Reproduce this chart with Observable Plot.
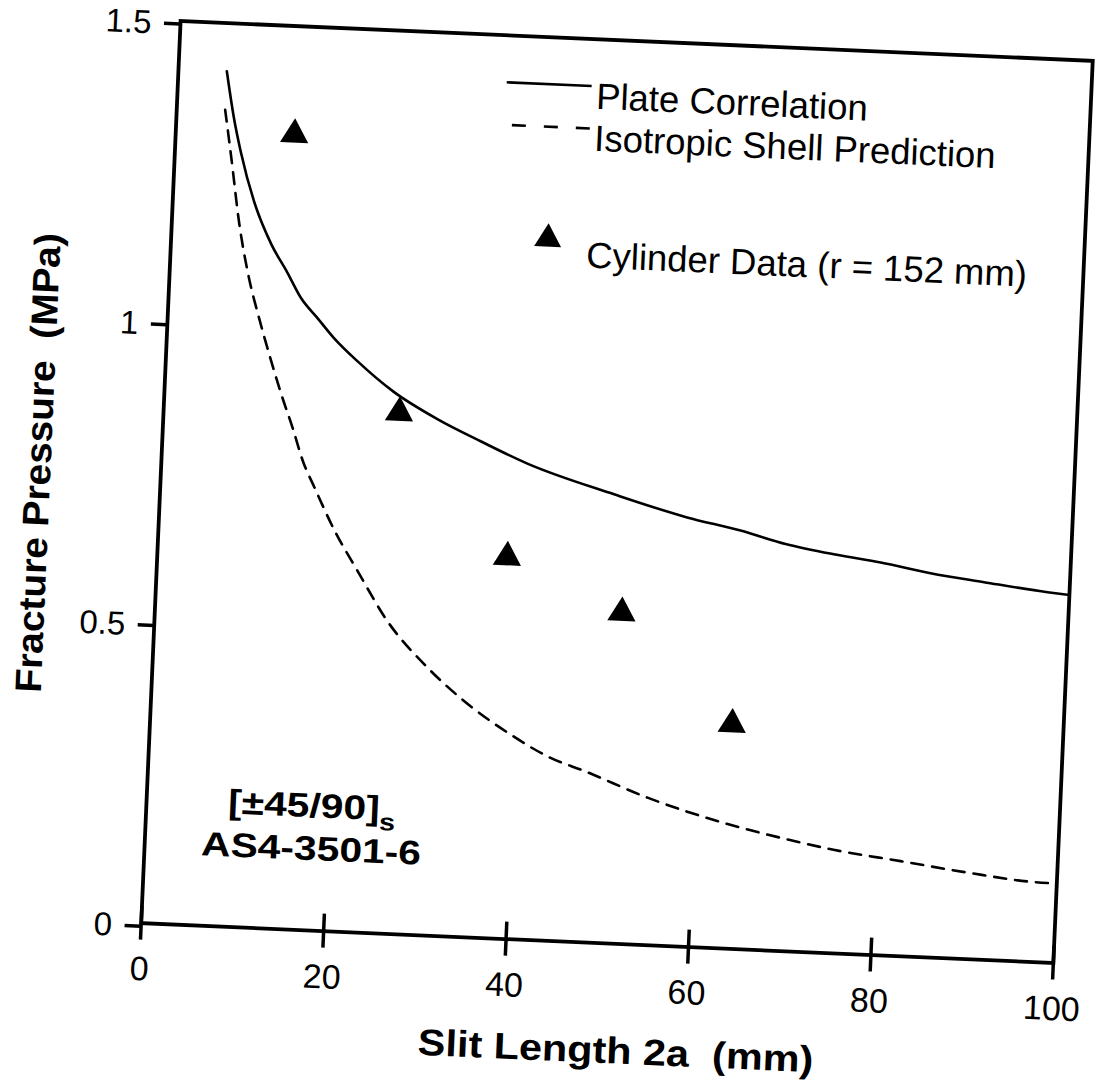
<!DOCTYPE html>
<html>
<head>
<meta charset="utf-8">
<script src="https://cdn.jsdelivr.net/npm/d3@7"></script>
<script src="https://cdn.jsdelivr.net/npm/@observablehq/plot@0.6"></script>
<style>
html, body { margin: 0; padding: 0; background: #fff; overflow: hidden; width: 1102px; height: 1092px; }
#chart svg { display: block; }
</style>
</head>
<body>
<div id="chart"></div>
<script>
// ---- data ----
const xTicks = [0, 20, 40, 60, 80, 100];
const yTicks = [0, 0.5, 1, 1.5];
const yTickLabels = ["0", "0.5", "1", "1.5"];

const cylLength = [13.0, 25.8, 38.3, 51.1, 63.7];
const cylPressure = [1.32, 0.866, 0.634, 0.55, 0.373];

const plateLength = [5.3, 6.3, 7.2, 8.9, 11.0, 12.9, 14.5, 16.4, 18.3, 21.0, 25.1, 30.0, 34.9, 40.0, 49.7, 57.8, 63.7, 68.7, 74.2, 79.2, 84.7, 90.6, 97.6, 100];
const platePressure = [1.42, 1.343, 1.288, 1.206, 1.136, 1.09, 1.049, 1.017, 0.985, 0.948, 0.9, 0.858, 0.824, 0.791, 0.746, 0.713, 0.695, 0.676, 0.662, 0.652, 0.638, 0.627, 0.615, 0.612];

const shellLength = [5.3, 6.2, 7.4, 8.7, 10.0, 11.3, 12.8, 14.2, 15.5, 16.9, 19.3, 22.0, 25.5, 30.1, 35.0, 39.5, 44.0, 47.7, 54.8, 63.7, 70.6, 75.4, 82.8, 90.1, 97.4, 100];
const shellPressure = [1.356, 1.277, 1.167, 1.079, 1.013, 0.953, 0.888, 0.833, 0.778, 0.735, 0.665, 0.6, 0.519, 0.445, 0.384, 0.34, 0.304, 0.285, 0.245, 0.207, 0.185, 0.172, 0.158, 0.144, 0.133, 0.132];

const legendLabels = ["Plate Correlation", "Isotropic Shell Prediction", "Cylinder Data (r = 152 mm)"];
const xTitle = "Slit Length 2a  (mm)";
const yTitle = "Fracture Pressure  (MPa)";
const layupText = "[±45/90]";
const layupSub = "s";
const materialText = "AS4-3501-6";

// ---- layout ----
const W = 1102, H = 1092, ML = 160, MT = 40, MR = 29, MB = 149;
const font = "'Liberation Sans', Arial, Helvetica, sans-serif";
const frameH = H - MT - MB;

const plate = plateLength.map((x, i) => ({x, y: platePressure[i]}));
const shell = shellLength.map((x, i) => ({x, y: shellPressure[i]}));
const cyl = cylLength.map((x, i) => ({x, y: cylPressure[i]}));

const plot = Plot.plot({
  width: W, height: H,
  marginLeft: ML, marginTop: MT, marginRight: MR, marginBottom: MB,
  style: {fontFamily: font, background: "#fff", color: "#000", overflow: "visible"},
  x: {domain: [0, 100]},
  y: {domain: [0, 1.5]},
  marks: [
    Plot.frame({stroke: "#000", strokeWidth: 3.8}),
    Plot.axisX({ticks: xTicks, tickSize: 17, tickPadding: 16, fontSize: 34, strokeWidth: 3.5, label: null}),
    Plot.tickX(xTicks, {x: d => d, insetTop: frameH - 17, stroke: "#000", strokeWidth: 3.5}),
    Plot.axisY({ticks: yTicks, tickFormat: d => yTickLabels[yTicks.indexOf(d)], tickSize: 16, tickPadding: 13, fontSize: 33, dy: 3, strokeWidth: 3.5, label: null}),
    Plot.line(plate, {x: "x", y: "y", curve: "monotone-x", stroke: "#000", strokeWidth: 2.6}),
    Plot.line(shell, {x: "x", y: "y", curve: "monotone-x", stroke: "#000", strokeWidth: 2.6, strokeDasharray: "12,9"}),
    Plot.dot(cyl, {x: "x", y: "y", symbol: "triangle", r: 10.5, fill: "#000", stroke: "none"})
  ]
});

const svg = d3.select(plot);
const g = svg.append("g").attr("font-family", font).attr("fill", "#000").attr("text-anchor", "start");

// legend
g.append("line").attr("x1", 489).attr("x2", 574).attr("y1", 87.5).attr("y2", 87.5)
  .attr("stroke", "#000").attr("stroke-width", 2.6);
g.append("text").attr("x", 579).attr("y", 110).attr("font-size", 36.5).text(legendLabels[0]);
g.append("line").attr("x1", 496).attr("x2", 574).attr("y1", 130).attr("y2", 130)
  .attr("stroke", "#000").attr("stroke-width", 2.6).attr("stroke-dasharray", "14,18");
g.append("text").attr("x", 579).attr("y", 152).attr("font-size", 36.5).text(legendLabels[1]);
g.append("path").attr("transform", "translate(537,242)")
  .attr("d", d3.symbol(d3.symbolTriangle, Math.PI * 10 * 10)()).attr("fill", "#000");
g.append("text").attr("x", 576).attr("y", 269).attr("font-size", 36.5).text(legendLabels[2]);

// annotation (bold, slightly wide face as in the original)
const t1 = g.append("text").attr("transform", "translate(326,830) scale(1.2,1)").attr("font-size", 34)
  .attr("font-weight", "bold").attr("text-anchor", "middle");
t1.append("tspan").text(layupText);
t1.append("tspan").attr("font-size", 24).attr("dy", 10).text(layupSub);
g.append("text").attr("transform", "translate(327,873) scale(1.2,1)").attr("font-size", 34)
  .attr("font-weight", "bold").attr("text-anchor", "middle").text(materialText);

// axis titles
g.append("text").attr("transform", "translate(640,1063) scale(1.12,1)").attr("font-size", 37)
  .attr("font-weight", "bold").attr("text-anchor", "middle")
  .style("white-space", "pre").text(xTitle);
g.append("text").attr("transform", "translate(50,488) rotate(-90) scale(1.05,1)").attr("font-size", 37)
  .attr("font-weight", "bold").attr("text-anchor", "middle")
  .style("white-space", "pre").text(yTitle);

// the scanned figure is turned slightly clockwise
plot.style.transformOrigin = "616.5px 491.3px";
plot.style.transform = "rotate(2.5deg)";

document.getElementById("chart").appendChild(plot);
</script>
</body>
</html>
